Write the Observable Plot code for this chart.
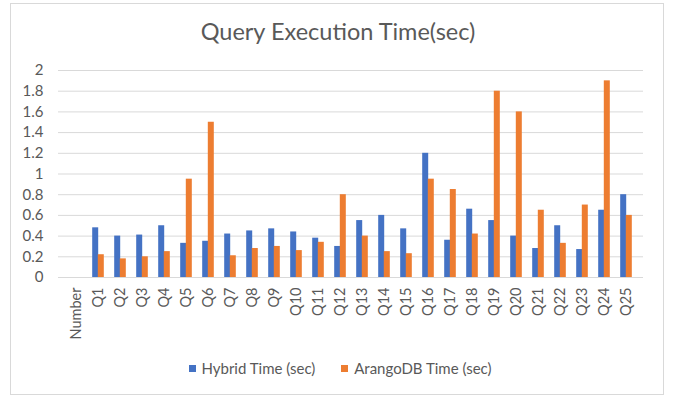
<!DOCTYPE html>
<html>
<head>
<meta charset="utf-8">
<script src="https://cdn.jsdelivr.net/npm/d3@7"></script>
<script src="https://cdn.jsdelivr.net/npm/@observablehq/plot@0.6"></script>
<style>
  html, body { margin: 0; padding: 0; background: #fff; width: 683px; height: 407px; overflow: hidden; }
  body { font-family: Lato, "Open Sans", sans-serif; position: relative; }
  #frame { position: absolute; left: 10px; top: 3px; width: 654px; height: 392px; border: 1px solid #d9d9d9; box-sizing: border-box; }
  #title { position: absolute; left: 0; width: 676px; top: 17px; text-align: center; font-size: 23.5px; color: #595959; }
  #chart { position: absolute; left: 0; top: 60px; }
  #legend { position: absolute; left: 0; width: 680px; top: 359px; text-align: center; font-size: 15px; color: #595959; white-space: nowrap; }
  .item { display: inline-block; margin: 0 11px; }
  .sw { display: inline-block; width: 7px; height: 7px; margin-right: 6px; vertical-align: 2px; }
</style>
</head>
<body>
<div id="frame"></div>
<div id="title">Query Execution Time(sec)</div>
<div id="chart"></div>
<div id="legend">
  <span class="item"><span class="sw" style="background:#4472C4"></span>Hybrid Time (sec)</span>
  <span class="item"><span class="sw" style="background:#ED7D31"></span>ArangoDB Time (sec)</span>
</div>
<script>
const categories = ["Number","Q1","Q2","Q3","Q4","Q5","Q6","Q7","Q8","Q9","Q10","Q11","Q12","Q13","Q14","Q15","Q16","Q17","Q18","Q19","Q20","Q21","Q22","Q23","Q24","Q25"];
const hybrid   = [null,0.48,0.40,0.41,0.50,0.33,0.35,0.42,0.45,0.47,0.44,0.38,0.30,0.55,0.60,0.47,1.20,0.36,0.66,0.55,0.40,0.28,0.50,0.27,0.65,0.80];
const arangodb = [null,0.22,0.18,0.20,0.25,0.95,1.50,0.21,0.28,0.30,0.26,0.34,0.80,0.40,0.25,0.23,0.95,0.85,0.42,1.80,1.60,0.65,0.33,0.70,1.90,0.60];
const yTicks = [0,0.2,0.4,0.6,0.8,1,1.2,1.4,1.6,1.8,2];

const hData = categories.map((c,i) => ({cat: c, v: hybrid[i]})).filter(d => d.v != null);
const aData = categories.map((c,i) => ({cat: c, v: arangodb[i]})).filter(d => d.v != null);

const chart = Plot.plot({
  width: 683,
  height: 287,
  marginLeft: 58,
  marginRight: 40,
  marginTop: 10,
  marginBottom: 70,
  style: { fontFamily: "Lato, 'Open Sans', sans-serif", fontSize: "14px", color: "#595959", background: "transparent" },
  x: { domain: categories, paddingInner: 0.75, paddingOuter: 0.375, label: null },
  y: { domain: [0, 2], label: null },
  marks: [
    Plot.gridY(yTicks, { stroke: "#d9d9d9", strokeOpacity: 1 }),
    Plot.barY(hData, { x: "cat", y: "v", fill: "#4472C4", dx: -2.8 }),
    Plot.barY(aData, { x: "cat", y: "v", fill: "#ED7D31", dx: 2.8 }),
    Plot.axisY(yTicks, { tickSize: 0, tickPadding: 15, tickFormat: d => String(+d.toFixed(1)), fontSize: 15, fill: "#595959", label: null }),
    Plot.axisX({ tickSize: 0, tickPadding: 10, tickRotate: -90, fontSize: 14.5, fill: "#595959", label: null })
  ]
});
document.getElementById("chart").appendChild(chart);
</script>
</body>
</html>
